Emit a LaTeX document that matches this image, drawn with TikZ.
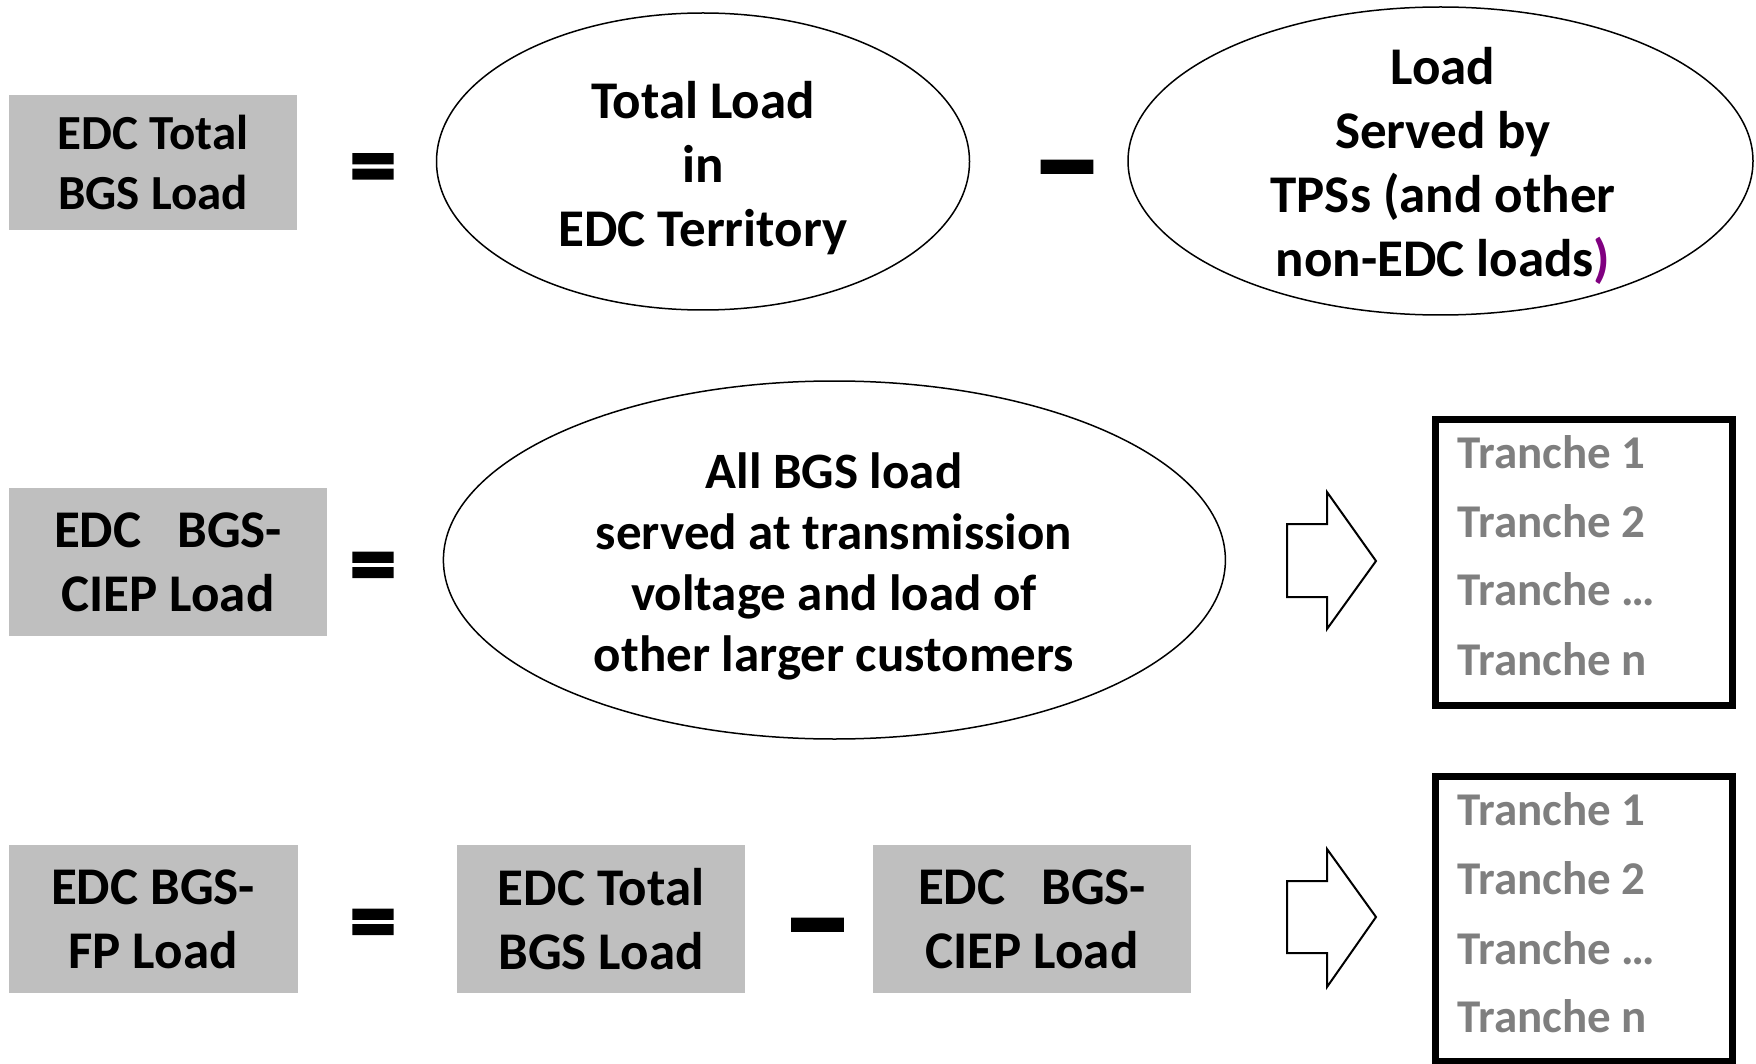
\documentclass[tikz,border=0pt]{standalone}
\usepackage{fontspec}
\setmainfont{Carlito}
\newfontfamily\opfont{Carlito Bold}[FakeBold=3]
\newfontfamily\dashfont{Carlito Bold}[FakeBold=1.2]
\usetikzlibrary{shapes.geometric}

\definecolor{boxgray}{RGB}{191,191,191}
\definecolor{tranchegray}{RGB}{127,127,127}
\definecolor{parenpurple}{RGB}{128,0,128}

\tikzset{every picture/.style={line width=0.75pt}}
\tikzset{
  loadbox/.style={fill=boxgray, inner sep=0pt, align=center, minimum height=74pt, font=\bfseries\fontsize{26.5}{32}\selectfont},
  loadoval/.style={draw, ellipse, inner sep=0pt},
  ovaltext/.style={inner sep=0pt, align=center, font=\bfseries\fontsize{26.5}{32}\selectfont},
  opsign/.style={inner sep=0pt, font=\opfont\fontsize{46}{46}\selectfont},
  minussign/.style={inner sep=0pt, font=\dashfont\fontsize{72}{72}\selectfont},
  tranchebox/.style={draw, line width=3.5pt, inner sep=0pt, minimum width=148.25pt},
  tranche/.style={anchor=base west, inner sep=0pt, text=tranchegray, font=\bfseries\fontsize{23.5}{28}\selectfont},
  blockarrow/.style={draw, line width=1pt, fill=white},
}

\begin{document}
\begin{tikzpicture}[x=0.5pt,y=0.5pt,yscale=-1]
\useasboundingbox (0,0) rectangle (1756,1064);

%Row 1: total BGS load
\node [loadbox, minimum width=144pt, minimum height=67.5pt, font=\bfseries\fontsize{24.5}{30}\selectfont] (total) at (153,162.5) {EDC Total\\BGS Load};
\node [opsign] (eqA) at (373,175) {=};
\node [loadoval, minimum width=266.5pt, minimum height=148.5pt] (terr) at (703,161.5) {};
\node [ovaltext] (terrtxt) at (703,168) {Total Load\\in\\EDC Territory};
\node [minussign] (minA) at (1067,184) {–};
\node [loadoval, minimum width=312.5pt, minimum height=154pt] (tps) at (1440.5,161) {};
\node [ovaltext] (tpstxt) at (1443,166) {Load\\Served by\\TPSs (and other\\non-EDC loads\textcolor{parenpurple}{)}};

%Row 2: CIEP load
\node [loadbox, minimum width=159pt] (ciep) at (168,562) {EDC\ \ \ BGS-\\CIEP Load};
\node [opsign] (eqB) at (373,573.5) {=};
\node [loadoval, minimum width=391pt, minimum height=179pt] (trans) at (834.4,560) {};
\node [ovaltext, font=\bfseries\fontsize{25.5}{30.5}\selectfont] (transtxt) at (834,566) {All BGS load\\served at transmission\\voltage and load of\\other larger customers};
%Block Arrow
\draw [blockarrow] (1287,524) -- (1327,524) -- (1327,492) -- (1376,561) -- (1327,629) -- (1327,597) -- (1287,597) -- cycle ;
\node [tranchebox, minimum height=143.25pt] (ciepset) at (1583.75,562.25) {};
\node [tranche] (ciepA) at (1457,468) {Tranche 1};
\node [tranche] (ciepB) at (1457,537) {Tranche 2};
\node [tranche] (ciepC) at (1457,605) {Tranche …};
\node [tranche] (ciepN) at (1457,675) {Tranche n};

%Row 3: FP load
\node [loadbox, minimum width=144.5pt] (fp) at (153,919) {EDC BGS-\\FP Load};
\node [opsign] (eqC) at (373,930.5) {=};
\node [loadbox, minimum width=144pt] (totalB) at (601,919) {EDC Total\\BGS Load};
\node [minussign] (minB) at (817.5,942) {–};
\node [loadbox, minimum width=159pt] (ciepC) at (1032,919) {EDC\ \ \ BGS-\\CIEP Load};
%Block Arrow
\draw [blockarrow] (1287,881) -- (1327,881) -- (1327,849) -- (1376,917) -- (1327,987) -- (1327,953) -- (1287,953) -- cycle ;
\node [tranchebox, minimum height=142.5pt] (fpset) at (1583.75,918.5) {};
\node [tranche] (fpA) at (1457,825) {Tranche 1};
\node [tranche] (fpB) at (1457,894) {Tranche 2};
\node [tranche] (fpC) at (1457,964) {Tranche …};
\node [tranche] (fpN) at (1457,1032) {Tranche n};

\end{tikzpicture}
\end{document}
